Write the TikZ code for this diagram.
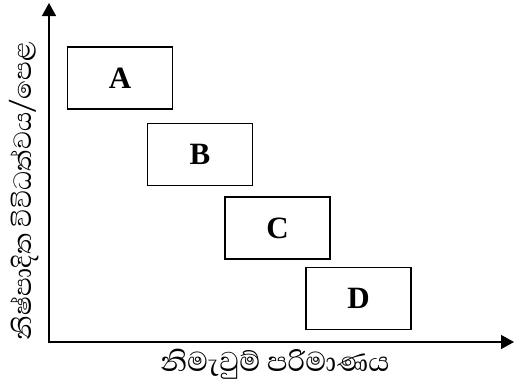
\documentclass[tikz,border=0pt]{standalone}
\usepackage{fontspec}
\setmainfont{Liberation Serif}
\newfontfamily\sinhala[Script=Sinhala]{Abhaya Libre}
\usepackage{tikz}
\usetikzlibrary{arrows.meta}

\begin{document}
\begin{tikzpicture}[x=1pt,y=-1pt,
    blk/.style={draw, line width=1.2pt, minimum width=105pt, minimum height=62pt,
      font=\fontsize{31}{33}\selectfont\bfseries},
    lbl/.style={font=\sinhala\fontsize{35}{37}\selectfont, inner sep=0pt}]
        \useasboundingbox (0,0) rectangle (514,383);
        \node[blk] at (120,78) (a){A};
        \node[blk] at (200,154.5) (b){B};
        \node[blk] at (277.5,228) (c){C};
        \node[blk] at (358.5,298.5) (d){D};
        \coordinate (o) at (49,342);
        \coordinate (ytip) at (49,3);
        \coordinate (xtip) at (514,342);
        \draw[line width=1.4pt, {Triangle[width=14pt,length=13pt]}-{Triangle[width=14pt,length=13pt]}] (ytip) -- (o) -- (xtip);
        \node[lbl] at (275,364) (xl){නිමැවුම් පරිමාණය};
        \node[lbl, rotate=90, font=\sinhala\fontsize{32}{34}\selectfont] at (24,191) (yl){නිෂ්පාදිත විවිධත්වය/පෙළ};
      \end{tikzpicture}
\end{document}
